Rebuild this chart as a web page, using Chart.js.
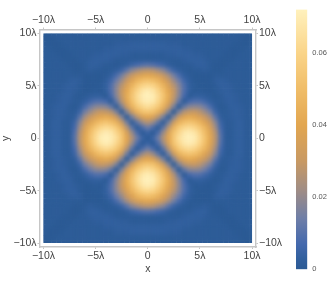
<!DOCTYPE html>
<html>
<head>
<meta charset="utf-8">
<style>
  html, body { margin: 0; padding: 0; background: #fff; overflow: hidden; }
  #wrap { position: relative; width: 332px; height: 291px; }
  #mainChart { position: absolute; left: 0; top: 0; }
  #barChart { position: absolute; left: 285px; top: 0; }
</style>
<script src="https://cdn.jsdelivr.net/npm/chart.js@4/dist/chart.umd.min.js"></script>
</head>
<body>
<div id="wrap">
  <canvas id="mainChart" width="332" height="291"></canvas>
  <canvas id="barChart" width="47" height="291"></canvas>
</div>
<script>
const axisTicks = [-10, -5, 0, 5, 10];
const axisLabels = ["\u221210\u03bb", "\u22125\u03bb", "0", "5\u03bb", "10\u03bb"];
const barTicks = [0, 0.02, 0.04, 0.06];
const barLabels = ["0", "0.02", "0.04", "0.06"];
const barMax = 0.0721;

// cell centres, in wavelengths
const gridX = [-10,-9.5,-9,-8.5,-8,-7.5,-7,-6.5,-6,-5.5,-5,-4.5,-4,-3.5,-3,-2.5,-2,-1.5,-1,-0.5,0,0.5,1,1.5,2,2.5,3,3.5,4,4.5,5,5.5,6,6.5,7,7.5,8,8.5,9,9.5,10];
const gridY = [10,9.5,9,8.5,8,7.5,7,6.5,6,5.5,5,4.5,4,3.5,3,2.5,2,1.5,1,0.5,0,-0.5,-1,-1.5,-2,-2.5,-3,-3.5,-4,-4.5,-5,-5.5,-6,-6.5,-7,-7.5,-8,-8.5,-9,-9.5,-10];

// intensity, in units of 0.001, top row first
const intensity = [
[0,0,1,1,1,1,1,1,1,1,1,1,1,1,1,1,1,1,1,1,1,1,1,1,1,1,1,1,1,1,1,1,1,1,1,1,1,1,1,0,0],
[0,0,0,1,1,1,1,1,1,1,1,1,1,1,1,1,1,1,1,1,1,1,1,1,1,1,1,1,1,1,1,1,1,1,1,1,1,1,0,0,0],
[1,0,0,0,1,1,1,1,1,1,1,1,1,1,2,2,2,3,3,3,3,3,3,3,2,2,2,1,1,1,1,1,1,1,1,1,1,0,0,0,1],
[1,1,0,0,0,1,1,1,1,1,1,1,2,2,3,3,3,3,3,3,3,3,3,3,3,3,3,2,2,1,1,1,1,1,1,1,0,0,0,1,1],
[1,1,1,0,0,0,1,1,1,1,2,2,3,3,3,2,2,1,1,1,1,1,1,1,2,2,3,3,3,2,2,1,1,1,1,0,0,0,1,1,1],
[1,1,1,1,0,0,0,1,1,2,3,3,3,2,1,1,1,1,1,1,1,1,1,1,1,1,1,2,3,3,3,2,1,1,0,0,0,1,1,1,1],
[1,1,1,1,1,0,0,0,1,3,3,2,1,1,0,1,2,5,7,9,10,9,7,5,2,1,0,1,1,2,3,3,1,0,0,0,1,1,1,1,1],
[1,1,1,1,1,1,0,0,1,2,1,1,0,1,2,5,11,18,22,26,27,26,22,18,11,5,2,1,0,1,1,2,1,0,0,1,1,1,1,1,1],
[1,1,1,1,1,1,1,1,0,0,0,0,1,3,8,15,23,30,36,39,41,39,36,30,23,15,8,3,1,0,0,0,0,1,1,1,1,1,1,1,1],
[1,1,1,1,1,2,3,2,0,0,0,0,2,6,14,21,30,38,46,50,52,50,46,38,30,21,14,6,2,0,0,0,0,2,3,2,1,1,1,1,1],
[1,1,1,1,2,3,3,1,0,0,0,1,3,9,18,27,36,46,54,60,62,60,54,46,36,27,18,9,3,1,0,0,0,1,3,3,2,1,1,1,1],
[1,1,1,1,2,3,2,1,0,0,1,0,3,9,19,30,40,51,60,67,70,67,60,51,40,30,19,9,3,0,1,0,0,1,2,3,2,1,1,1,1],
[1,1,1,2,3,3,1,0,1,2,3,3,0,7,18,29,42,53,63,70,72,70,63,53,42,29,18,7,0,3,3,2,1,0,1,3,3,2,1,1,1],
[1,1,1,2,3,2,1,1,3,6,9,9,7,0,12,26,39,51,61,68,70,68,61,51,39,26,12,0,7,9,9,6,3,1,1,2,3,2,1,1,1],
[1,1,2,3,3,1,0,2,8,14,18,19,18,12,0,16,31,45,55,61,64,61,55,45,31,16,0,12,18,19,18,14,8,2,0,1,3,3,2,1,1],
[1,1,2,3,2,1,1,5,15,21,27,30,29,26,16,0,17,32,45,52,54,52,45,32,17,0,16,26,29,30,27,21,15,5,1,1,2,3,2,1,1],
[1,1,2,3,2,1,2,11,23,30,36,40,42,39,31,17,0,15,27,37,40,37,27,15,0,17,31,39,42,40,36,30,23,11,2,1,2,3,2,1,1],
[1,1,3,3,1,1,5,18,30,38,46,51,53,51,45,32,15,0,11,21,26,21,11,0,15,32,45,51,53,51,46,38,30,18,5,1,1,3,3,1,1],
[1,1,3,3,1,1,7,22,36,46,54,60,63,61,55,45,27,11,0,8,14,8,0,11,27,45,55,61,63,60,54,46,36,22,7,1,1,3,3,1,1],
[1,1,3,3,1,1,9,26,39,50,60,67,70,68,61,52,37,21,8,0,5,0,8,21,37,52,61,68,70,67,60,50,39,26,9,1,1,3,3,1,1],
[1,1,3,3,1,1,10,27,41,52,62,70,72,70,64,54,40,26,14,5,0,5,14,26,40,54,64,70,72,70,62,52,41,27,10,1,1,3,3,1,1],
[1,1,3,3,1,1,9,26,39,50,60,67,70,68,61,52,37,21,8,0,5,0,8,21,37,52,61,68,70,67,60,50,39,26,9,1,1,3,3,1,1],
[1,1,3,3,1,1,7,22,36,46,54,60,63,61,55,45,27,11,0,8,14,8,0,11,27,45,55,61,63,60,54,46,36,22,7,1,1,3,3,1,1],
[1,1,3,3,1,1,5,18,30,38,46,51,53,51,45,32,15,0,11,21,26,21,11,0,15,32,45,51,53,51,46,38,30,18,5,1,1,3,3,1,1],
[1,1,2,3,2,1,2,11,23,30,36,40,42,39,31,17,0,15,27,37,40,37,27,15,0,17,31,39,42,40,36,30,23,11,2,1,2,3,2,1,1],
[1,1,2,3,2,1,1,5,15,21,27,30,29,26,16,0,17,32,45,52,54,52,45,32,17,0,16,26,29,30,27,21,15,5,1,1,2,3,2,1,1],
[1,1,2,3,3,1,0,2,8,14,18,19,18,12,0,16,31,45,55,61,64,61,55,45,31,16,0,12,18,19,18,14,8,2,0,1,3,3,2,1,1],
[1,1,1,2,3,2,1,1,3,6,9,9,7,0,12,26,39,51,61,68,70,68,61,51,39,26,12,0,7,9,9,6,3,1,1,2,3,2,1,1,1],
[1,1,1,2,3,3,1,0,1,2,3,3,0,7,18,29,42,53,63,70,72,70,63,53,42,29,18,7,0,3,3,2,1,0,1,3,3,2,1,1,1],
[1,1,1,1,2,3,2,1,0,0,1,0,3,9,19,30,40,51,60,67,70,67,60,51,40,30,19,9,3,0,1,0,0,1,2,3,2,1,1,1,1],
[1,1,1,1,2,3,3,1,0,0,0,1,3,9,18,27,36,46,54,60,62,60,54,46,36,27,18,9,3,1,0,0,0,1,3,3,2,1,1,1,1],
[1,1,1,1,1,2,3,2,0,0,0,0,2,6,14,21,30,38,46,50,52,50,46,38,30,21,14,6,2,0,0,0,0,2,3,2,1,1,1,1,1],
[1,1,1,1,1,1,1,1,0,0,0,0,1,3,8,15,23,30,36,39,41,39,36,30,23,15,8,3,1,0,0,0,0,1,1,1,1,1,1,1,1],
[1,1,1,1,1,1,0,0,1,2,1,1,0,1,2,5,11,18,22,26,27,26,22,18,11,5,2,1,0,1,1,2,1,0,0,1,1,1,1,1,1],
[1,1,1,1,1,0,0,0,1,3,3,2,1,1,0,1,2,5,7,9,10,9,7,5,2,1,0,1,1,2,3,3,1,0,0,0,1,1,1,1,1],
[1,1,1,1,0,0,0,1,1,2,3,3,3,2,1,1,1,1,1,1,1,1,1,1,1,1,1,2,3,3,3,2,1,1,0,0,0,1,1,1,1],
[1,1,1,0,0,0,1,1,1,1,2,2,3,3,3,2,2,1,1,1,1,1,1,1,2,2,3,3,3,2,2,1,1,1,1,0,0,0,1,1,1],
[1,1,0,0,0,1,1,1,1,1,1,1,2,2,3,3,3,3,3,3,3,3,3,3,3,3,3,2,2,1,1,1,1,1,1,1,0,0,0,1,1],
[1,0,0,0,1,1,1,1,1,1,1,1,1,1,2,2,2,3,3,3,3,3,3,3,2,2,2,1,1,1,1,1,1,1,1,1,1,0,0,0,1],
[0,0,0,1,1,1,1,1,1,1,1,1,1,1,1,1,1,1,1,1,1,1,1,1,1,1,1,1,1,1,1,1,1,1,1,1,1,1,0,0,0],
[0,0,1,1,1,1,1,1,1,1,1,1,1,1,1,1,1,1,1,1,1,1,1,1,1,1,1,1,1,1,1,1,1,1,1,1,1,1,1,0,0]
];

const colorStops = [
  [0, [43, 90, 148]], [0.003, [50, 96, 158]], [0.007, [68, 105, 173]], [0.014, [110, 126, 168]],
  [0.022, [160, 141, 133]], [0.03, [200, 153, 99]], [0.04, [226, 166, 80]], [0.05, [240, 189, 104]],
  [0.06, [250, 212, 136]], [0.0721, [255, 241, 189]]
];

function colorFor(v) {
  for (let i = 1; i < colorStops.length; i++) {
    if (v <= colorStops[i][0]) {
      const [a, ca] = colorStops[i - 1];
      const [b, cb] = colorStops[i];
      const t = (v - a) / (b - a);
      const c = ca.map((n, k) => Math.round(n + (cb[k] - n) * t));
      return `rgb(${c[0]},${c[1]},${c[2]})`;
    }
  }
  return "rgb(255,241,189)";
}

const font = { family: "'Liberation Sans', sans-serif", size: 10.5 };
const textColor = "#444";
const frameColor = "#c6c6c6";
const axisMin = -10.38, axisMax = 10.38;

const points = [];
intensity.forEach((row, j) => row.forEach((v, i) => {
  points.push({ x: gridX[i], y: gridY[j], v: v * 0.001 });
}));

const axisOpts = (position, size, extra) => ({
  type: "linear",
  position,
  min: axisMin,
  max: axisMax,
  afterBuildTicks: (s) => { s.ticks = axisTicks.map((value) => ({ value })); },
  afterFit: (s) => {
    if (position === "top" || position === "bottom") s.height = size;
    else s.width = size;
  },
  grid: { drawOnChartArea: false, tickLength: 2, color: frameColor },
  border: { color: frameColor, width: 1.4 },
  ticks: {
    font,
    color: textColor,
    padding: 1,
    maxRotation: 0,
    autoSkip: false,
    callback: (v) => axisLabels[axisTicks.indexOf(v)],
  },
  ...extra,
});

const smoothCells = {
  id: "smoothCells",
  beforeDatasetsDraw(chart) {
    const { ctx, scales } = chart;
    const l = scales.x.getPixelForValue(-10), r = scales.x.getPixelForValue(10);
    const t = scales.y.getPixelForValue(10), b = scales.y.getPixelForValue(-10);
    ctx.save();
    ctx.beginPath();
    ctx.rect(l, t, r - l, b - t);
    ctx.clip();
  },
  afterDatasetsDraw(chart) {
    const { ctx, scales } = chart;
    const l = Math.floor(scales.x.getPixelForValue(-10)), r = Math.ceil(scales.x.getPixelForValue(10));
    const t = Math.floor(scales.y.getPixelForValue(10)), b = Math.ceil(scales.y.getPixelForValue(-10));
    const off = document.createElement("canvas");
    off.width = r - l;
    off.height = b - t;
    off.getContext("2d").drawImage(chart.canvas, l, t, r - l, b - t, 0, 0, r - l, b - t);
    ctx.filter = "blur(2.2px)";
    ctx.drawImage(off, l, t);
    ctx.filter = "none";
    ctx.restore();
  },
};

new Chart(document.getElementById("mainChart"), {
  type: "scatter",
  data: {
    datasets: [{
      data: points,
      pointStyle: "rect",
      borderWidth: 0,
      pointBorderWidth: 0,
      pointRadius: (c) => {
        const s = c.chart.scales.x;
        return (s.getPixelForValue(0.5) - s.getPixelForValue(0)) * 0.74;
      },
      pointBackgroundColor: (c) => colorFor(c.raw.v),
    }],
  },
  options: {
    responsive: false,
    animation: false,
    events: [],
    layout: { padding: 0 },
    plugins: { legend: { display: false }, tooltip: { enabled: false } },
    scales: {
      x: axisOpts("bottom", 44, {
        title: { display: true, text: "x", font, color: textColor, padding: { top: 0, bottom: 16 } },
      }),
      x2: axisOpts("top", 29.5),
      y: axisOpts("left", 39.5, {
        title: { display: true, text: "y", font, color: textColor, padding: 0 },
      }),
      y2: axisOpts("right", 76),
    },
  },
  plugins: [smoothCells],
});

new Chart(document.getElementById("barChart"), {
  type: "bar",
  data: {
    labels: [""],
    datasets: [{
      data: [barMax],
      barPercentage: 1,
      categoryPercentage: 1,
      backgroundColor: (c) => {
        const { chartArea, scales, ctx } = c.chart;
        if (!chartArea) return colorFor(0);
        const g = ctx.createLinearGradient(0, scales.y.getPixelForValue(0), 0, scales.y.getPixelForValue(barMax));
        colorStops.forEach(([v]) => g.addColorStop(v / barMax, colorFor(v)));
        return g;
      },
    }],
  },
  options: {
    responsive: false,
    animation: false,
    events: [],
    layout: { padding: { left: 11, top: 9.5, bottom: 21.7 } },
    plugins: { legend: { display: false }, tooltip: { enabled: false } },
    scales: {
      x: { display: false },
      y: {
        position: "right",
        min: 0,
        max: barMax,
        afterBuildTicks: (s) => { s.ticks = barTicks.map((value) => ({ value })); },
        afterFit: (s) => { s.width = 24.7; },
        grid: { display: false, drawTicks: false, tickLength: 0 },
        border: { display: false },
        ticks: {
          font: { family: font.family, size: 7.5 },
          color: "#555",
          padding: 5,
          autoSkip: false,
          callback: (v) => barLabels[barTicks.indexOf(v)],
        },
      },
    },
  },
});
</script>
</body>
</html>
